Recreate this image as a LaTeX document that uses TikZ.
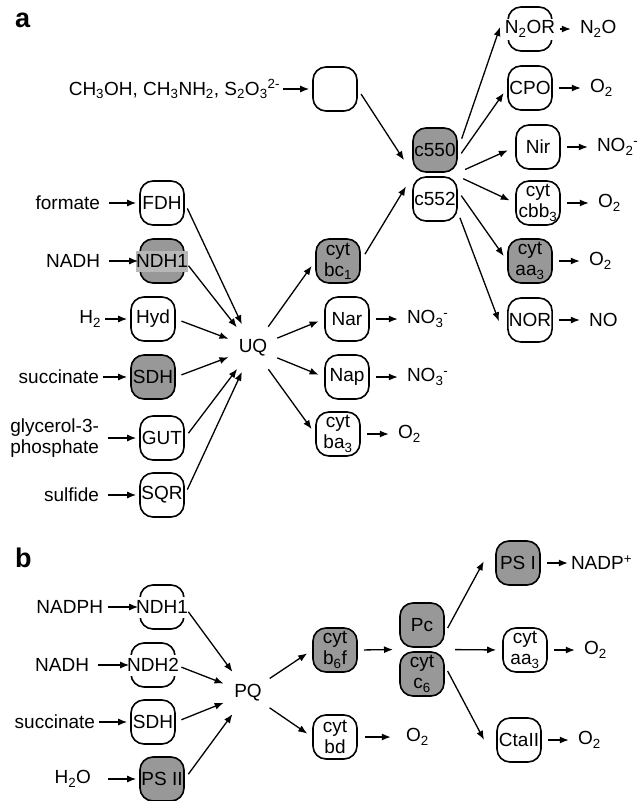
\documentclass[tikz,border=0pt]{standalone}
\usepackage{fontspec}
\setmainfont{Liberation Sans}
\usepackage{tikz}
\usetikzlibrary{positioning, arrows.meta, fit}
\definecolor{enzgray}{RGB}{152,152,152}
\newcommand{\Sb}[1]{\textsubscript{#1}}
\newcommand{\Sp}[1]{\textsuperscript{#1}}
\newcommand{\Cyt}[1]{cyt\\#1}
\tikzset{
    enz/.style={draw, line width=1.6pt, rounded corners=13pt, minimum width=44pt,
      minimum height=44pt, inner sep=1pt, align=center},
    enzg/.style={enz, fill=enzgray},
    cover/.style={inner sep=0.5pt, minimum height=21pt},
    chem/.style={inner sep=1pt},
    hub/.style={circle, minimum size=40pt, inner sep=0pt},
    panel/.style={anchor=base west, inner sep=0pt, font=\fontsize{27}{29}\selectfont\bfseries},
    flow/.style={-{Latex[length=9pt,width=7pt]}, line width=1.3pt, shorten <=6pt, shorten >=6pt},
    feed/.style={flow, shorten <=8pt, shorten >=3pt},
    prod/.style={flow, shorten <=6pt, shorten >=8pt},
}

\begin{document}
\begin{tikzpicture}[x=1pt, y=-1pt, font=\fontsize{19}{21}\selectfont]
    \useasboundingbox (0,0) rectangle (643,801);

    % ---- a ----
    \node[panel] (la) at (15,27) {a};

    \node[enz] (mbox) at (335,89) {};
    \node[chem, left=31pt of mbox] (c1) {CH\Sb{3}OH, CH\Sb{3}NH\Sb{2}, S\Sb{2}O\Sb{3}\Sp{2-}};
    \draw (c1) edge[feed, shorten <=2pt] (mbox);

    \node[enzg] (c550) at (435,150) {c550};
    \node[enz] (c552) at (435,199) {c552};

    \node[enz] (N2OR) at (530,29) {};
    \node[cover, fill=white] (N2ORt) at (N2OR) {N\Sb{2}OR};
    \node[enz] (CPO) at (530,88) {CPO};
    \node[enz] (Nir) at (538,147) {Nir};
    \node[enz] (cbb3) at (538,203) {\Cyt{cbb\Sb{3}}};
    \node[enzg] (aa3) at (530,261) {\Cyt{aa\Sb{3}}};
    \node[enz] (NOR) at (530,320) {NOR};

    \node[chem, right=26pt of N2OR] (n2o) {N\Sb{2}O};
    \node[chem, right=36pt of CPO] (o2a) {O\Sb{2}};
    \node[chem, right=35pt of Nir] (no2) {NO\Sb{2}\Sp{-}};
    \node[chem, right=36pt of cbb3] (o2b) {O\Sb{2}};
    \node[chem, right=35pt of aa3] (o2c) {O\Sb{2}};
    \node[chem, right=35pt of NOR] (no) {NO};

    \node[enz] (FDH) at (162,203) {FDH};
    \node[enzg] (NDH1) at (162,261) {};
    \node[cover, fill=enzgray!70!white] (NDH1t) at (NDH1) {NDH1};
    \node[enz] (Hyd) at (153,319) {Hyd};
    \node[enzg] (SDH) at (153,377) {SDH};
    \node[enz] (GUT) at (162,438) {GUT};
    \node[enz] (SQR) at (162,495) {SQR};

    \node[chem, left=38pt of FDH] (formate) {formate};
    \node[chem, left=38pt of NDH1] (nadh) {NADH};
    \node[chem, left=28pt of Hyd] (h2) {H\Sb{2}};
    \node[chem, left=30pt of SDH] (succ) {succinate};
    \node[chem, align=left, left=39pt of GUT] (g3p) {glycerol-3-\\phosphate};
    \node[chem, left=39pt of SQR] (sulf) {sulfide};

    \node[hub] (UQ) at (253,348) {UQ};

    \node[enzg] (bc1) at (338,261) {\Cyt{bc\Sb{1}}};
    \node[enz] (Nar) at (347,319) {Nar};
    \node[enz] (Nap) at (347,377) {Nap};
    \node[enz] (ba3) at (338,434) {\Cyt{ba\Sb{3}}};

    \node[chem, right=36pt of Nar] (no3a) {NO\Sb{3}\Sp{-}};
    \node[chem, right=36pt of Nap] (no3b) {NO\Sb{3}\Sp{-}};
    \node[chem, right=36pt of ba3] (o2d) {O\Sb{2}};

    \draw (formate) edge[feed] (FDH);
    \draw (nadh) edge[feed, shorten >=1pt] (NDH1);
    \draw (h2) edge[feed, shorten <=3pt] (Hyd);
    \draw (succ) edge[feed, shorten <=3pt] (SDH);
    \draw (g3p) edge[feed] (GUT);
    \draw (sulf) edge[feed] (SQR);

    \draw (FDH.east) edge[flow] (UQ);
    \draw (NDH1.east) edge[flow] (UQ);
    \draw (Hyd.east) edge[flow] (UQ);
    \draw (SDH.east) edge[flow] (UQ);
    \draw (GUT.east) edge[flow] (UQ);
    \draw (SQR.east) edge[flow] (UQ);

    \draw (UQ) edge[flow] (bc1.west);
    \draw (UQ) edge[flow] (Nar.west);
    \draw (UQ) edge[flow] (Nap.west);
    \draw (UQ) edge[flow] (ba3.west);

    \draw (Nar) edge[prod] (no3a);
    \draw (Nap) edge[prod] (no3b);
    \draw (ba3) edge[prod] (o2d);

    \draw (mbox.east) edge[flow, shorten >=15pt] (c550.south west);
    \draw (bc1.east) edge[flow, shorten <=8pt, shorten >=12pt] (c552.north west);

    \draw (c550.east) edge[flow, shorten <=12pt, shorten >=22pt] (N2OR.north west);
    \draw (c550.-20) edge[flow] (CPO.west);
    \draw (c550.south east) edge[flow, shorten <=8pt, shorten >=8pt] (Nir.west);
    \draw (c552.north east) edge[flow] (cbb3.west);
    \draw (c552.20) edge[flow] (aa3.west);
    \draw (c552.-30) edge[flow, shorten >=23pt] (NOR.south west);

    \draw (N2ORt) edge[prod, shorten <=4pt] (n2o);
    \draw (CPO) edge[prod] (o2a);
    \draw (Nir) edge[prod] (no2);
    \draw (cbb3) edge[prod] (o2b);
    \draw (aa3) edge[prod] (o2c);
    \draw (NOR) edge[prod] (no);

    % ---- b ----
    \node[panel] (lb) at (15,567) {b};

    \node[enz] (NDH1b) at (162,607) {};
    \node[cover, fill=white] (NDH1bt) at (NDH1b) {NDH1};
    \node[enz] (NDH2) at (153,665) {};
    \node[cover, fill=white] (NDH2t) at (NDH2) {NDH2};
    \node[enz] (SDHb) at (153,722) {SDH};
    \node[enzg] (PSII) at (162,779) {PS II};

    \node[chem, left=35pt of NDH1b] (nadph) {NADPH};
    \node[chem, left=40pt of NDH2] (nadhb) {NADH};
    \node[chem, left=34pt of SDHb] (succb) {succinate};
    \node[chem, left=47pt of PSII] (h2o) {H\Sb{2}O};

    \node[hub] (PQ) at (248,693) {PQ};

    \node[enzg] (b6f) at (335,650) {\Cyt{b\Sb{6}f}};
    \node[enz] (bd) at (335,737) {\Cyt{bd}};
    \node[enzg] (Pc) at (422,625) {Pc};
    \node[enzg] (c6) at (422,674) {\Cyt{c\Sb{6}}};
    \node[fit=(Pc)(c6), inner sep=0pt] (Pcc6) {};

    \node[enzg] (PSI) at (518,563) {PS I};
    \node[enz] (aa3b) at (525,650) {\Cyt{aa\Sb{3}}};
    \node[enz] (CtaII) at (519,740) {CtaII};

    \node[chem, right=29pt of PSI] (nadp) {NADP\Sp{+}};
    \node[chem, right=35pt of aa3b] (o2e) {O\Sb{2}};
    \node[chem, right=35pt of CtaII] (o2f) {O\Sb{2}};
    \node[chem, right=47pt of bd] (o2g) {O\Sb{2}};

    \draw (nadph) edge[feed, shorten <=4pt, shorten >=1pt] (NDH1b);
    \draw (nadhb) edge[feed, shorten >=1pt] (NDH2);
    \draw (succb) edge[feed, shorten <=3pt] (SDHb);
    \draw (h2o) edge[feed, shorten <=16pt] (PSII);

    \draw (NDH1b.east) edge[flow] (PQ);
    \draw (NDH2.east) edge[flow] (PQ);
    \draw (SDHb.east) edge[flow] (PQ);
    \draw (PSII.east) edge[flow] (PQ);

    \draw (PQ) edge[flow] (b6f.west);
    \draw (PQ) edge[flow] (bd.west);
    \draw (b6f.east) edge[flow] (Pcc6.west);
    \draw (bd) edge[prod, shorten <=7pt, shorten >=14pt] (o2g);

    \draw (Pc.-20) edge[flow, shorten >=24pt] (PSI.north west);
    \draw (Pcc6.east) edge[flow, shorten <=10pt] (aa3b.west);
    \draw (c6.20) edge[flow, shorten >=26pt] (CtaII.south west);

    \draw (PSI) edge[prod, shorten >=2pt] (nadp);
    \draw (aa3b) edge[prod] (o2e);
    \draw (CtaII) edge[prod] (o2f);
\end{tikzpicture}
\end{document}
